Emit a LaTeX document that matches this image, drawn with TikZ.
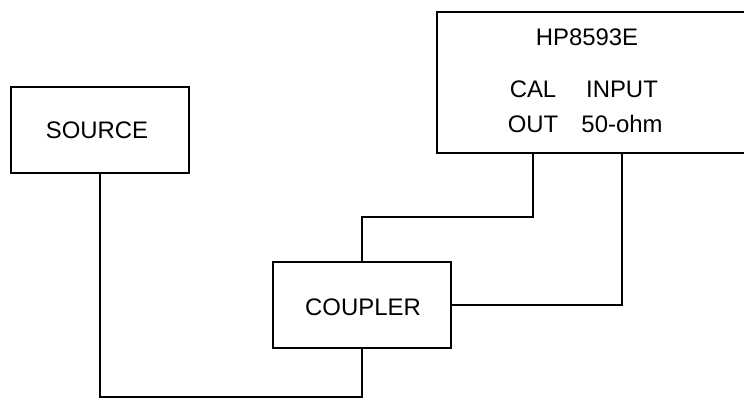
\documentclass[tikz,border=0pt]{standalone}
\usepackage{fontspec}
\setmainfont{Liberation Sans}
\usetikzlibrary{calc}
\tikzset{blk/.style={draw,line width=.8pt,inner sep=0pt},lbl/.style={align=center,font=\fontsize{17}{25}\selectfont}}
\begin{document}
\begin{tikzpicture}[x=.025cm,y=-.025cm,line width=.8pt]
\useasboundingbox(0,0)rectangle(744,399);
\node[blk,minimum width=4.45cm,minimum height=2.15cm](src)at(100,130){};\node[lbl](srct)at(97,130){SOURCE};
\node[blk,minimum width=7.85cm,minimum height=3.525cm](spec)at(594,82.5){};
\node[lbl](title)at(587,37){HP8593E};\node[lbl](calout)at(533,107){CAL\\OUT};\node[lbl](input)at(622,107){INPUT\\50-ohm};
\node[blk,minimum width=4.45cm,minimum height=2.15cm](cpl)at(362,305){};\node[lbl](cplt)at(363,307){COUPLER};
\coordinate(j1)at(533,217);\coordinate(gnd)at(0,397);
\draw(cpl.north)|-(j1)--(calout|-spec.south);\draw(cpl.east)-|(input|-spec.south);
\draw(src.south)--(src.south|-gnd)-|(cpl.south);
\end{tikzpicture}
\end{document}
